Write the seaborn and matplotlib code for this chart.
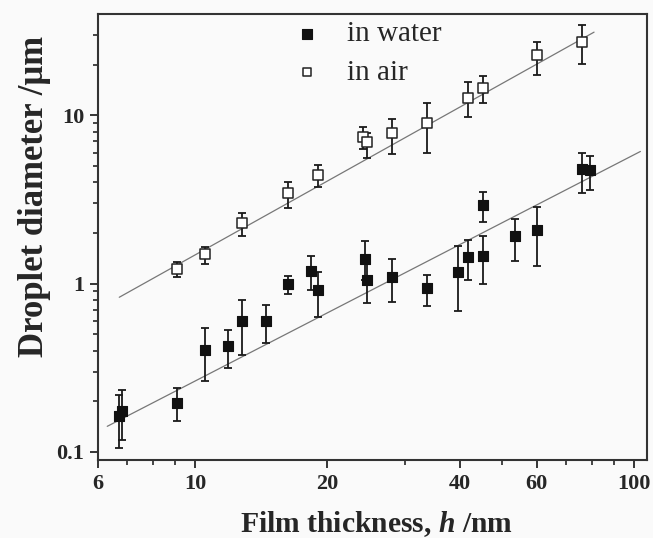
import numpy as np
import matplotlib
matplotlib.use("Agg")
import matplotlib.pyplot as plt
from matplotlib.ticker import NullFormatter
import seaborn as sns

# Film thickness (nm) and droplet diameters (um).
water_h = [6.71, 6.82, 9.10, 10.5, 11.9, 12.8, 14.5, 16.3, 18.3, 19.05, 24.3, 24.6,
           28.1, 33.7, 39.7, 41.9, 45.3, 45.3, 53.5, 59.9, 76.1, 79.5]
water_d = [0.163, 0.176, 0.196, 0.406, 0.427, 0.597, 0.60, 0.99, 1.19, 0.912, 1.40, 1.05,
           1.10, 0.938, 1.18, 1.43, 1.45, 2.94, 1.91, 2.08, 4.79, 4.73]
water_lo = [0.106, 0.118, 0.152, 0.263, 0.316, 0.377, 0.443, 0.864, 0.92, 0.637, 1.05, 0.764,
            0.782, 0.733, 0.689, 1.05, 1.0, 2.33, 1.37, 1.27, 3.45, 3.62]
water_hi = [0.219, 0.235, 0.239, 0.548, 0.533, 0.804, 0.75, 1.115, 1.45, 1.18, 1.80, 1.30,
            1.40, 1.13, 1.68, 1.82, 1.91, 3.52, 2.41, 2.84, 6.0, 5.75]

air_h = [9.10, 10.5, 12.8, 16.3, 19.05, 24.1, 24.6, 28.1, 33.7, 41.9, 45.3, 59.9, 76.1]
air_d = [1.22, 1.50, 2.28, 3.45, 4.45, 7.39, 6.90, 7.84, 9.03, 12.76, 14.6, 22.8, 27.4]
air_lo = [1.09, 1.31, 1.91, 2.80, 3.76, 6.3, 5.54, 5.88, 6.0, 9.72, 11.9, 17.3, 20.3]
air_hi = [1.34, 1.64, 2.63, 4.03, 5.06, 8.47, 7.9, 9.56, 11.77, 15.8, 17.1, 27.4, 34.4]

# Power-law fit lines (end points)
fit_water_h = [6.30, 103.3]
fit_water_d = [0.142, 6.10]
fit_air_h = [6.71, 81.0]
fit_air_d = [0.83, 31.2]

x_ticks = [6, 10, 20, 40, 60, 100]
y_ticks = [0.1, 1, 10]
y_tick_labels = ["0.1", "1", "10"]

sns.set_style("ticks")
plt.rcParams["font.family"] = ["Liberation Serif", "DejaVu Serif"]
plt.rcParams["font.weight"] = "bold"
plt.rcParams["mathtext.fontset"] = "custom"
plt.rcParams["mathtext.it"] = "Liberation Serif:italic:bold"
plt.rcParams["mathtext.rm"] = "Liberation Serif:bold"

bg = "#fafafa"
fig = plt.figure(figsize=(6.53, 5.38), dpi=100, facecolor=bg)
ax = fig.add_axes([0.150, 0.145, 0.841, 0.829])
ax.set_facecolor(bg)
ax.set_xscale("log")
ax.set_yscale("log")

# fit lines
sns.lineplot(x=fit_water_h, y=fit_water_d, color="#777777", lw=0.9, ax=ax)
sns.lineplot(x=fit_air_h, y=fit_air_d, color="#777777", lw=0.9, ax=ax)

# error bars
for h, d, lo, hi in [(water_h, water_d, water_lo, water_hi), (air_h, air_d, air_lo, air_hi)]:
    d = np.array(d)
    yerr = [d - np.array(lo), np.array(hi) - d]
    ax.errorbar(h, d, yerr=yerr, fmt="none", ecolor="#1a1a1a", elinewidth=1.3,
                capsize=3, capthick=1.3, zorder=3)

sns.scatterplot(x=water_h, y=water_d, marker="s", s=55, color="#111111",
                edgecolor="#111111", linewidth=0.8, label="in water", ax=ax, zorder=4)
sns.scatterplot(x=air_h, y=air_d, marker="s", s=50, facecolor="white",
                edgecolor="#222222", linewidth=1.1, label="in air", ax=ax, zorder=4)

ax.set_xlim(6, 107)
ax.set_ylim(0.0896, 40)

ax.set_xticks(x_ticks)
ax.set_xticklabels([str(t) for t in x_ticks])
ax.set_xticks([7, 8, 9, 30, 50, 70, 80, 90], minor=True)
ax.xaxis.set_minor_formatter(NullFormatter())
ax.set_yticks(y_ticks)
ax.set_yticklabels(y_tick_labels)
ax.set_yticks([0.2, 0.3, 0.4, 0.5, 0.6, 0.7, 0.8, 0.9, 2, 3, 4, 5, 6, 7, 8, 9, 20, 30], minor=True)
ax.yaxis.set_minor_formatter(NullFormatter())

ax.tick_params(which="major", direction="out", length=6, width=1.3, labelsize=16, pad=4)
ax.tick_params(which="minor", direction="out", length=3.5, width=1.2)
for lab in ax.get_xticklabels() + ax.get_yticklabels():
    lab.set_fontweight("bold")
for sp in ax.spines.values():
    sp.set_linewidth(1.5)
    sp.set_color("#333333")

ax.set_xlabel("Film thickness, $h$ /nm", fontsize=21.3, fontweight="bold")
ax.xaxis.set_label_coords(0.508, -0.11)
ax.set_ylabel("Droplet diameter /\u03bcm", fontsize=25, fontweight="bold")
ax.yaxis.set_label_coords(-0.085, 0.59)

ax.legend(loc="upper left", bbox_to_anchor=(0.322, 1.03), frameon=False,
          handlelength=0.8, handletextpad=0.98, labelspacing=0.42, borderpad=0.2,
          markerscale=0.9,
          prop={"family": "Liberation Serif", "weight": "normal", "size": 21})

fig.savefig("out.png", dpi=100, facecolor=bg)
